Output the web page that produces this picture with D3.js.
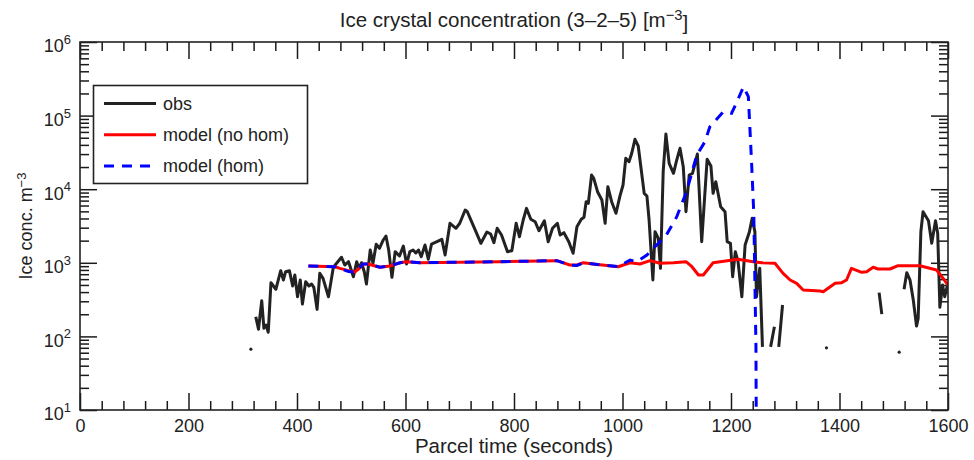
<!DOCTYPE html>
<html>
<head>
<meta charset="utf-8">
<script src="https://cdn.jsdelivr.net/npm/d3@7"></script>
<style>
  body { margin: 0; background: #fff; }
  text { font-family: "Liberation Sans", Arial, Helvetica, sans-serif; }
</style>
</head>
<body>
<script>

// Observed ice crystal concentration (null = no data)
var obsTime = [324,329,335,339,343,347,352,361,370,375,
               379,386,392,396,401,406,410,416,422,427,
               431,437,442,448,458,467,473,482,488,495,
               504,510,514,519,524,528,535,540,546,552,
               559,564,569,575,581,589,596,602,608,614,
               619,624,629,636,642,648,658,667,673,682,
               693,700,710,714,720,728,739,750,757,763,
               769,777,788,796,804,810,817,823,831,839,
               846,856,863,871,880,885,892,901,909,916,
               924,929,933,937,943,947,954,962,968,973,
               980,988,995,1001,1006,1012,1017,1023,1029,1033,
               1040,1045,1049,1056,1060,1066,1070,1075,1080,1086,
               1094,1100,1106,1112,1117,1123,1129,1138,
               1146,1156,1163,1167,1172,1181,1189,1193,1199,1203,
               1208,1213,1220,1226,1234,1239,1244,1247,1253,1258,
               1265,1273,1280,1284,1288,1295,1400,1473,1478,1500,
               1519,1524,1530,1536,1542,1545,1550,1554,1564,1570,
               1577,1581,1585,1590,1594,1599];
var obsConc = [185,125,305,129,143,114,537,437,782,584,
               757,782,484,682,346,584,275,554,484,515,
               464,233,719,615,346,869,984,1189,933,1035,
               647,1035,841,1003,757,515,1493,984,1783,1574,
               2042,2312,1493,635,1416,1236,1690,964,1416,1493,
               1358,1493,1210,1746,1117,1799,1936,2084,1276,3443,
               2944,3443,5213,4943,3899,2852,1841,2618,2460,1876,
               2944,2388,1416,1459,3443,2264,3818,5495,3899,3614,
               2729,3733,1936,2944,3443,2388,2566,1936,1345,3090,
               3899,4150,6761,6427,15600,14060,9247,7129,3443,10810,
               6761,4710,7907,11400,26300,23650,30760,47640,38630,22490,
               8790,8090,3818,584,2649,2153,841,17300,56230,22490,
               16440,24950,35970,20230,4943,15600,16440,30060,
               1936,25470,20650,8790,12650,5780,4943,1936,1841,647,
               1416,1035,346,1746,2649,4027,2649,346,841,72,
               null,72,135,null,72,267,null,393,201,null,
               437,734,584,312,138,176,2649,4943,3733,1841,
               3733,2518,248,499,346,499];

// Isolated single observations
var dotTime = [315,1376,1510];
var dotConc = [67,70,61];

// Model without homogeneous freezing
var modelTime = [421,470,479,495,507,515,521,531,544,553,
                 571,590,602,627,774,879,903,916,928,946,
                 992,1014,1032,1051,1069,1094,1117,1128,1140,1149,
                 1167,1180,1213,1241,1257,1281,1296,1309,1321,1333,
                 1364,1370,1379,1392,1404,1413,1422,1441,1450,1462,
                 1471,1493,1508,1548,1579,1591,1600];
var modelNoHom = [906,885,841,782,757,841,964,964,906,869,
                  906,1003,1035,1003,1035,1069,933,933,1003,964,
                  885,1003,964,1069,984,1003,1035,885,682,682,
                  1003,1035,1117,1035,1003,984,719,584,526,427,
                  414,405,451,526,537,584,841,743,757,869,
                  824,824,914,914,798,615,499];

// Model with homogeneous freezing
var homTime = [421,470,479,495,507,515,521,531,544,553,
               571,590,602,627,774,879,903,916,928,992,
               1014,1026,1045,1063,1081,1100,1118,1137,1152,1161,
               1186,1201,1211,1223,1232,1238,1242,1246,1247];
var modelHom = [906,885,841,760,745,841,964,964,906,869,
                906,1003,1035,1003,1035,1069,933,920,995,885,
                1092,1035,1276,1746,2388,4227,9247,29170,44160,70630,
                112900,107400,154400,247000,180700,22490,4710,72,1];

// Axis ticks
var xMajorTicks = [0,200,400,600,800,1000,1200,1400,1600];
var yMajorTicks = [1e1,1e2,1e3,1e4,1e5,1e6];
var yExponents = ['1','2','3','4','5','6'];

var legendNames = ['obs','model (no hom)','model (hom)'];

// Size of plot
var W = 974, H = 460;
var pLeft = 80, pRight = 948, pTop = 42, pBottom = 410;
var fontSize = 18;
var labelSize = 20.5;

var svg = d3.select('body').append('svg')
            .attr('width', W)
            .attr('height', H);

svg.append('rect').attr('width', W).attr('height', H).attr('fill', '#fff');

var x = d3.scaleLinear().domain([0, 1600]).range([pLeft, pRight]);
var y = d3.scaleLog().domain([10, 1e6]).range([pBottom, pTop]);

// Minor ticks
var xMinorTicks = d3.range(0, 1601, 40).filter(function(v) {
  return xMajorTicks.indexOf(v) == -1;
});
var yMinorTicks = [];
yMajorTicks.slice(0, -1).forEach(function(d) {
  for (var k = 2; k < 10; k++) yMinorTicks.push(k * d);
});

function styleAxis(g) {
  g.select('.domain').remove();
  g.selectAll('.tick line').attr('stroke', '#1a1a1a').attr('stroke-width', 1.5);
  g.selectAll('text').attr('font-size', fontSize).attr('fill', '#222');
}

// Bottom / top axes
svg.append('g').attr('transform', 'translate(0,' + pBottom + ')')
   .call(d3.axisBottom(x).tickValues(xMinorTicks).tickSize(-9).tickFormat(''))
   .call(styleAxis);
svg.append('g').attr('transform', 'translate(0,' + pBottom + ')')
   .call(d3.axisBottom(x).tickValues(xMajorTicks).tickSize(-17).tickPadding(9)
         .tickFormat(d3.format('d')))
   .call(styleAxis);
svg.append('g').attr('transform', 'translate(0,' + pTop + ')')
   .call(d3.axisTop(x).tickValues(xMinorTicks).tickSize(-9).tickFormat(''))
   .call(styleAxis);
svg.append('g').attr('transform', 'translate(0,' + pTop + ')')
   .call(d3.axisTop(x).tickValues(xMajorTicks).tickSize(-17).tickFormat(''))
   .call(styleAxis);

// Left / right axes
svg.append('g').attr('transform', 'translate(' + pLeft + ',0)')
   .call(d3.axisLeft(y).tickValues(yMinorTicks).tickSize(-9).tickFormat(''))
   .call(styleAxis);
var yAxisG = svg.append('g').attr('transform', 'translate(' + pLeft + ',0)')
   .call(d3.axisLeft(y).tickValues(yMajorTicks).tickSize(-17).tickPadding(16)
         .tickFormat(''))
   .call(styleAxis);
svg.append('g').attr('transform', 'translate(' + pRight + ',0)')
   .call(d3.axisRight(y).tickValues(yMinorTicks).tickSize(-9).tickFormat(''))
   .call(styleAxis);
svg.append('g').attr('transform', 'translate(' + pRight + ',0)')
   .call(d3.axisRight(y).tickValues(yMajorTicks).tickSize(-17).tickFormat(''))
   .call(styleAxis);

// Power of ten labels
yAxisG.selectAll('.tick text').each(function(d, i) {
  var t = d3.select(this).attr('dy', '0.55em').attr('x', -9);
  t.text('10');
  t.append('tspan').attr('dy', '-0.65em').attr('font-size', fontSize * 0.72)
   .text(yExponents[i]);
});
yAxisG.selectAll('.tick text').attr('text-anchor', 'end');

// Clip
svg.append('clipPath').attr('id', 'clip')
   .append('rect').attr('x', pLeft).attr('y', pTop)
   .attr('width', pRight - pLeft).attr('height', pBottom - pTop);

var plot = svg.append('g').attr('clip-path', 'url(#clip)');

var line = d3.line()
    .defined(function(d) { return d[1] != null; })
    .x(function(d) { return x(d[0]); })
    .y(function(d) { return y(d[1]); });

var obsData = obsTime.map(function(t, i) { return [t, obsConc[i]]; });
var noHomData = modelTime.map(function(t, i) { return [t, modelNoHom[i]]; });
var homData = homTime.map(function(t, i) { return [t, modelHom[i]]; });

plot.append('path').datum(obsData)
    .attr('d', line).attr('fill', 'none')
    .attr('stroke', '#222').attr('stroke-width', 3)
    .attr('stroke-linejoin', 'round');

plot.selectAll('circle.dot')
    .data(dotTime.map(function(t, i) { return [t, dotConc[i]]; }))
    .enter().append('circle')
    .attr('cx', function(d) { return x(d[0]); })
    .attr('cy', function(d) { return y(d[1]); })
    .attr('r', 1.6).attr('fill', '#222');

plot.append('path').datum(noHomData)
    .attr('d', line).attr('fill', 'none')
    .attr('stroke', '#ff0000').attr('stroke-width', 3)
    .attr('stroke-linejoin', 'round');

plot.append('path').datum(homData)
    .attr('d', line).attr('fill', 'none')
    .attr('stroke', '#0000ff').attr('stroke-width', 3)
    .attr('stroke-dasharray', '10,8');

// Frame
svg.append('rect')
   .attr('x', pLeft).attr('y', pTop)
   .attr('width', pRight - pLeft).attr('height', pBottom - pTop)
   .attr('fill', 'none').attr('stroke', '#222').attr('stroke-width', 1.6);

// Legend
var leg = svg.append('g');
leg.append('rect')
   .attr('x', 93.5).attr('y', 85.5).attr('width', 214).attr('height', 98)
   .attr('fill', '#fff').attr('stroke', '#222').attr('stroke-width', 1.6);
var legColors = ['#222', '#ff0000', '#0000ff'];
legendNames.forEach(function(name, i) {
  var ly = 103.5 + i * 31.2;
  leg.append('line')
     .attr('x1', 104).attr('x2', 156).attr('y1', ly).attr('y2', ly)
     .attr('stroke', legColors[i]).attr('stroke-width', 3)
     .attr('stroke-dasharray', i == 2 ? '10,8' : null);
  leg.append('text')
     .attr('x', 163).attr('y', ly + 6)
     .attr('font-size', fontSize).attr('fill', '#222')
     .text(name);
});

// Title
var title = svg.append('text')
   .attr('x', (pLeft + pRight) / 2).attr('y', 27)
   .attr('text-anchor', 'middle')
   .attr('font-size', labelSize).attr('fill', '#222');
title.append('tspan').text('Ice crystal concentration (3\u20132\u20135) [m');
title.append('tspan').attr('dy', '-0.5em').attr('font-size', labelSize * 0.72).text('\u22123');
title.append('tspan').attr('dy', '0.5em').text(']');

// Axis labels
svg.append('text')
   .attr('x', (pLeft + pRight) / 2).attr('y', 453)
   .attr('text-anchor', 'middle')
   .attr('font-size', labelSize).attr('fill', '#222')
   .text('Parcel time (seconds)');

var ylab = svg.append('text')
   .attr('transform', 'translate(32,' + ((pTop + pBottom) / 2) + ') rotate(-90)')
   .attr('text-anchor', 'middle')
   .attr('font-size', fontSize).attr('fill', '#222');
ylab.append('tspan').text('Ice conc. m');
ylab.append('tspan').attr('dy', '-0.5em').attr('font-size', fontSize * 0.72).text('\u22123');

</script>
</body>
</html>
